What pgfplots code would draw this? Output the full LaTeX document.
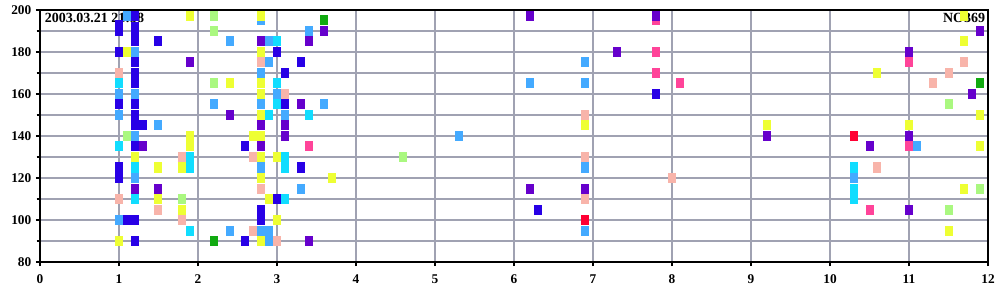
\documentclass[border=0pt]{standalone}
\usepackage{pgfplots}
\pgfplotsset{compat=1.18}
\usepackage{fontspec}
\setmainfont{Liberation Serif}
\definecolor{cdb}{RGB}{40,0,230}
\definecolor{clb}{RGB}{68,170,255}
\definecolor{ccy}{RGB}{17,221,255}
\definecolor{cye}{RGB}{238,255,51}
\definecolor{csa}{RGB}{248,180,170}
\definecolor{clg}{RGB}{170,248,128}
\definecolor{cpu}{RGB}{102,0,204}
\definecolor{chp}{RGB}{255,68,153}
\definecolor{cgr}{RGB}{17,170,17}
\definecolor{cre}{RGB}{255,0,51}
\definecolor{cgrid}{RGB}{160,162,178}
\pgfdeclareplotmark{rect}{\pgfpathrectangle{\pgfpoint{-3pt}{-3.75pt}}{\pgfpoint{6pt}{7.5pt}}\pgfusepathqfill}
\begin{document}
\begin{tikzpicture}
\path[use as bounding box] (-30pt,-28.5pt) rectangle (720pt,196.5pt);
\begin{axis}[
  at={(0,0)}, anchor=south west,
  scale only axis, width=711pt, height=189pt,
  xmin=0, xmax=12, ymin=80, ymax=200,
  xtick={0,1,...,12}, ytick={80,100,...,200}, minor ytick={90,110,...,190},
  grid=both,
  major grid style={cgrid, line width=0.8pt},
  minor grid style={cgrid, line width=0.8pt},
  axis line style={black, line width=0.9pt},
  tick align=outside, xtick pos=left, ytick pos=left,
  major tick length=3pt, minor tick length=2.5pt,
  tick style={black, line width=0.8pt},
  /pgf/number format/assume math mode=true,
  ticklabel style={font=\fontsize{10}{12}\selectfont\bfseries},
  xticklabel style={yshift=-3pt},
  only marks, mark=rect,
  clip=true,
]
\addplot[clb, mark=rect] coordinates {(1.1,197)(1,160)(1,150)(1,100)(1.2,180)(1.2,160)(1.2,140)(1.2,120)(1.5,145)(2.2,155)(2.4,185)(2.4,95)
(2.8,195)(2.8,170)(2.8,155)(2.8,125)(2.8,95)(2.9,185)(2.9,175)(2.9,95)(2.9,90)(3.0,160)(3.1,150)(3.3,115)(3.4,190)(3.6,155)
(5.3,140)(6.2,165)(6.9,175)(6.9,165)(6.9,125)(6.9,95)(10.3,120)(11.1,135)};
\addplot[csa, mark=rect] coordinates {(1,170)(1,110)(1.5,105)(1.8,130)(1.8,100)(2.7,130)(2.7,95)(2.8,175)(2.8,115)(3.0,90)(3.1,160)(6.9,150)(6.9,130)(6.9,110)(8.0,120)(10.6,125)(11.3,165)(11.5,170)(11.7,175)};
\addplot[ccy, mark=rect] coordinates {(1,165)(1,135)(1.2,125)(1.2,110)(1.9,130)(1.9,125)(1.9,95)(3.0,185)(3.0,165)(3.0,155)(2.9,150)(3.1,130)(3.1,125)(3.1,110)(3.4,150)(10.3,125)(10.3,115)(10.3,110)};
\addplot[chp, mark=rect] coordinates {(3.4,135)(7.8,195)(7.8,180)(7.8,170)(8.1,165)(10.5,105)(11,175)(11,135)};
\addplot[clg, mark=rect] coordinates {(1.1,140)(1.8,110)(2.2,197)(2.2,190)(2.2,165)(4.6,130)(11.5,155)(11.5,105)(11.9,115)};
\addplot[cgr, mark=rect] coordinates {(2.2,90)(3.6,195)(11.9,165)};
\addplot[cre, mark=rect] coordinates {(6.9,100)(10.3,140)};
\addplot[cdb, mark=rect] coordinates {(1,193)(1,190)(1,180)(1,155)(1,125)(1,120)
(1.2,197)(1.2,192)(1.2,190)(1.2,185)(1.2,175)(1.2,170)(1.2,165)(1.2,155)(1.2,150)(1.2,145)(1.2,135)(1.2,100)(1.2,90)
(1.1,100)(1.3,145)(1.5,185)(2.6,135)(2.6,90)(2.8,105)(2.8,100)(3.0,180)(3.0,110)(3.1,170)(3.1,155)(3.3,175)(3.3,125)(6.3,105)(7.8,160)};
\addplot[cpu, mark=rect] coordinates {(1.2,115)(1.3,135)(1.5,115)(1.9,175)(2.4,150)(2.8,185)(2.8,145)(2.8,135)(3.1,145)(3.1,140)(3.3,155)(3.4,185)(3.4,90)(3.6,190)(6.2,197)(6.2,115)(6.9,115)(7.3,180)(7.8,197)(9.2,140)(10.5,135)(11,180)(11,140)(11,105)(11.8,160)(11.9,190)};
\addplot[cye, mark=rect] coordinates {(1.1,180)(1,90)(1.2,130)(1.5,125)(1.5,110)(1.8,125)(1.8,105)(1.9,197)(1.9,140)(1.9,135)(2.4,165)(2.8,197)(2.8,180)(2.8,165)(2.8,160)(2.8,150)(2.7,140)(2.8,140)(2.8,130)(2.8,120)(2.8,90)(2.9,110)(3.0,130)(3.0,100)(3.7,120)(6.9,145)(9.2,145)(10.6,170)(11,145)(11.7,197)(11.7,185)(11.9,150)(11.9,135)(11.7,115)(11.5,95)};
\node[anchor=north west, inner sep=0pt, font=\fontsize{10.5}{12}\selectfont\bfseries] at ([xshift=3.5pt,yshift=-2pt]rel axis cs:0,1) {2003.03.21 21:38};
\node[anchor=north east, inner sep=0pt, font=\fontsize{10.5}{12}\selectfont\bfseries] at ([xshift=-2pt,yshift=-2.5pt]rel axis cs:1,1) {NO369};
\end{axis}
\end{tikzpicture}
\end{document}
